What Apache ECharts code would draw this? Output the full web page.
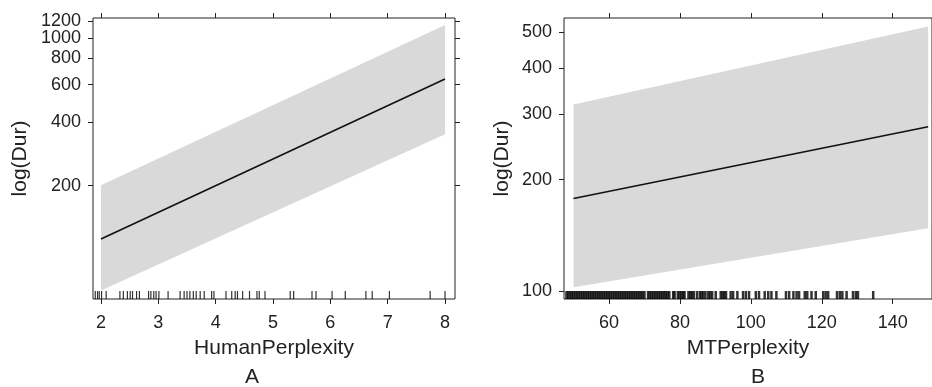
<!DOCTYPE html>
<html><head><meta charset="utf-8">
<script src="https://cdn.jsdelivr.net/npm/echarts@6/dist/echarts.min.js"></script>
<style>html,body{margin:0;padding:0;background:#fff}#c{width:932px;height:387px}</style>
</head><body><div id="c"></div>
<script>
// Panel A: HumanPerplexity
const humanX = [2, 8];
const humanFit = [112, 638];
const humanUpper = [201, 1150];
const humanLower = [64, 350];
const humanXTicks = [2, 3, 4, 5, 6, 7, 8];
const humanYTicks = [200, 400, 600, 800, 1000];
const humanYTopTick = [1200];
const humanRug = [1.9, 1.94, 1.97, 2.01, 2.09, 2.33, 2.39, 2.46, 2.51, 2.55, 2.62, 2.67, 2.83, 2.87, 2.92, 2.96, 3.01, 3.17, 3.38, 3.45, 3.5, 3.55, 3.61, 3.66, 3.73, 3.8, 3.93, 3.97, 4.18, 4.28, 4.34, 4.38, 4.47, 4.59, 4.72, 4.76, 4.86, 5.3, 5.36, 5.68, 5.75, 6.03, 6.26, 6.62, 6.73, 7.03, 7.74, 8.0];

// Panel B: MTPerplexity
const mtX = [50, 150];
const mtFit = [178, 278];
const mtUpper = [319, 518];
const mtLower = [102.5, 148];
const mtXTicks = [60, 80, 100, 120, 140];
const mtYTicks = [100, 200, 300, 400, 500];
const mtRug = [48, 48.5, 49, 49.5, 50, 50.5, 51, 51.5, 52, 52.5, 53, 53.5, 54, 54.5, 55, 55.5, 56, 56.5, 57, 57.5, 58, 58.5, 59, 59.5, 60, 60.5, 61, 61.5, 62, 62.5, 63, 63.5, 64, 64.5, 65, 65.5, 66, 66.5, 67, 67.5, 68, 68.5, 69, 69.5, 70,
  71, 71.5, 72, 72.5, 73, 73.5, 74, 74.5, 75, 75.5, 76, 76.5, 77, 78.1, 78.5, 79.4, 79.9, 80.4, 80.9, 81.3, 82.4, 82.9, 83.4, 83.9, 84.8, 85.6, 86.1, 86.6, 87.2, 88, 88.5, 89.1, 90.1, 91.5, 92, 92.5, 93, 94.3, 95, 96.2, 97.8, 98.6, 99.5,
  101.4, 102.3, 103.9, 104.9, 105.8, 107.2, 109.9, 110.8, 112, 112.9, 113.6, 115.2, 115.9, 117.1, 118.3, 120.4, 121.1, 121.8, 124.3, 125.1, 125.8, 127, 128.8, 129.6, 130.2, 134.5];

const FONT = 'Liberation Sans, Arial, sans-serif';
const TXT = '#222';
const A = { xMin: 1.8605, xMax: 8.174, yMin: 58.3, yMax: 1240 };
const B = { xMin: 47.31, xMax: 151.08, yMin: 95.3, yMax: 546 };

function band(xi, yi, xs, up, lo) {
  return {
    type: 'custom', xAxisIndex: xi, yAxisIndex: yi, silent: true, z: 1,
    data: [[xs[0], up[0]]],
    renderItem: function (params, api) {
      const pts = [];
      for (let i = 0; i < xs.length; i++) pts.push(api.coord([xs[i], up[i]]));
      for (let i = xs.length - 1; i >= 0; i--) pts.push(api.coord([xs[i], lo[i]]));
      return { type: 'polygon', shape: { points: pts }, style: { fill: '#d9d9d9' } };
    }
  };
}
function fitLine(xi, yi, xs, ys) {
  return {
    type: 'line', xAxisIndex: xi, yAxisIndex: yi, z: 3, silent: true,
    showSymbol: false, data: xs.map((x, i) => [x, ys[i]]),
    lineStyle: { color: '#111', width: 1.6 }
  };
}
function rug(xi, yi, vals, yBase, w) {
  return {
    type: 'scatter', xAxisIndex: xi, yAxisIndex: yi, z: 4, silent: true,
    symbol: 'rect', symbolSize: [w, 8], symbolOffset: [0, -4],
    itemStyle: { color: '#000' },
    data: vals.map(v => [v, yBase])
  };
}
function xAx(g, min, max, ticks, pos, name) {
  const label = pos === 'bottom';
  return {
    gridIndex: g, type: 'value', min: min, max: max, position: pos,
    axisLine: { show: false }, splitLine: { show: false },
    axisTick: { show: true, length: 5, customValues: ticks, lineStyle: { color: '#222' } },
    axisLabel: { show: label, customValues: ticks, margin: 15, fontSize: 18, color: TXT, fontFamily: FONT },
    name: label ? name : '', nameLocation: 'middle', nameGap: 39,
    nameTextStyle: { fontSize: 21, color: TXT, fontFamily: FONT }
  };
}
function yAx(g, min, max, ticks, pos, name, gap, showLabel) {
  return {
    gridIndex: g, type: 'log', logBase: 10, min: min, max: max, position: pos,
    axisLine: { show: false }, splitLine: { show: false }, minorTick: { show: false },
    axisTick: { show: true, length: 5, customValues: ticks, lineStyle: { color: '#222' } },
    axisLabel: { show: showLabel, customValues: ticks, margin: 12, fontSize: 18, color: TXT, fontFamily: FONT,
      formatter: v => String(Math.round(v)) },
    name: name, nameLocation: 'middle', nameGap: gap, nameRotate: 90,
    nameTextStyle: { fontSize: 21, color: TXT, fontFamily: FONT }
  };
}

const chart = echarts.init(document.getElementById('c'), null, { renderer: 'canvas' });
chart.setOption({
  animation: false,
  backgroundColor: '#fff',
  grid: [
    { left: 93, top: 18, width: 362, height: 281, show: true, borderColor: '#222', borderWidth: 1, backgroundColor: 'transparent' },
    { left: 564, top: 18, width: 368, height: 281, show: true, borderColor: '#222', borderWidth: 1, backgroundColor: 'transparent' }
  ],
  xAxis: [
    xAx(0, A.xMin, A.xMax, humanXTicks, 'bottom', 'HumanPerplexity'),
    xAx(0, A.xMin, A.xMax, humanXTicks, 'top', ''),
    xAx(1, B.xMin, B.xMax, mtXTicks, 'bottom', 'MTPerplexity'),
    xAx(1, B.xMin, B.xMax, mtXTicks, 'top', '')
  ],
  yAxis: [
    yAx(0, A.yMin, A.yMax, humanYTicks, 'left', 'log(Dur)', 62, true),
    yAx(0, A.yMin, A.yMax, humanYTicks, 'right', '', 0, false),
    yAx(1, B.yMin, B.yMax, mtYTicks, 'left', 'log(Dur)', 51, true),
    yAx(0, A.yMin, A.yMax, humanYTopTick, 'left', '', 0, true),
    yAx(0, A.yMin, A.yMax, humanYTopTick, 'right', '', 0, false)
  ],
  graphic: [
    { type: 'text', x: 252, y: 377, style: { text: 'A', fill: TXT, font: '21px Liberation Sans, Arial, sans-serif', textAlign: 'center', textVerticalAlign: 'middle' } },
    { type: 'text', x: 758, y: 377, style: { text: 'B', fill: TXT, font: '21px Liberation Sans, Arial, sans-serif', textAlign: 'center', textVerticalAlign: 'middle' } }
  ],
  series: [
    band(0, 0, humanX, humanUpper, humanLower),
    fitLine(0, 0, humanX, humanFit),
    rug(0, 0, humanRug, A.yMin, 1.2),
    band(2, 2, mtX, mtUpper, mtLower),
    fitLine(2, 2, mtX, mtFit),
    rug(2, 2, mtRug, B.yMin, 2.5)
  ]
});
</script>
</body></html>
